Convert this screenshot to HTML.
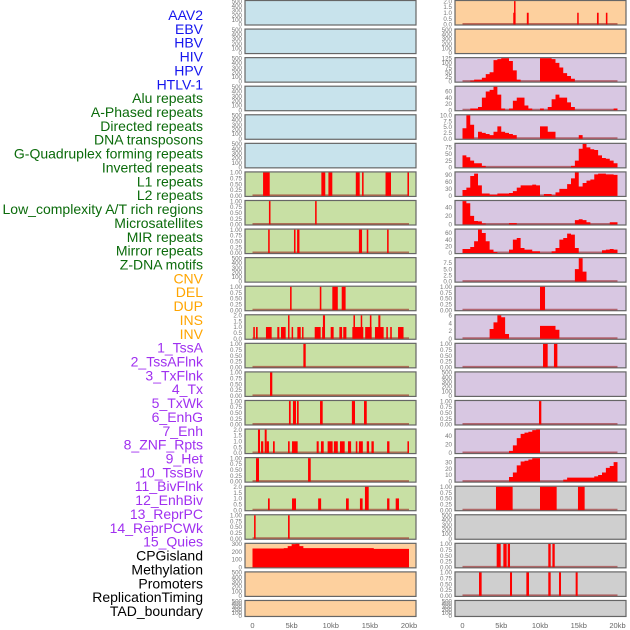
<!DOCTYPE html>
<html><head><meta charset="utf-8"><style>
html,body{margin:0;padding:0;background:#fff;}
svg{display:block;font-family:"Liberation Sans",sans-serif;}
</style></head><body>
<svg id="chart" width="630" height="630" viewBox="0 0 630 630"></svg>
<script>
// ---- data ----
const trackLabels=["AAV2","EBV","HBV","HIV","HPV","HTLV-1","Alu repeats","A-Phased repeats","Directed repeats","DNA transposons","G-Quadruplex forming repeats","Inverted repeats","L1 repeats","L2 repeats","Low_complexity A/T rich regions","Microsatellites","MIR repeats","Mirror repeats","Z-DNA motifs","CNV","DEL","DUP","INS","INV","1_TssA","2_TssAFlnk","3_TxFlnk","4_Tx","5_TxWk","6_EnhG","7_Enh","8_ZNF_Rpts","9_Het","10_TssBiv","11_BivFlnk","12_EnhBiv","13_ReprPC","14_ReprPCWk","15_Quies","CPGisland","Methylation","Promoters","ReplicationTiming","TAD_boundary"];
const labelGroups=[6,13,5,15,5];
const groupColors=["#1515ee","#0b6b0b","#ffa500","#a030f0","#000000"];
const xTickLabels=["0","5kb","10kb","15kb","20kb"];
const xTickValues=[0,5,10,15,20];
const ticks01=["0.00","0.25","0.50","0.75","1.00"];
const ticks02=["0.0","0.5","1.0","1.5","2.0"];
const ticks500=["0","100","200","300","400","500"];
// spike tracks: [startKb,endKb,value]
const l1Spikes=[[1.35,2.2,1],[8.8,9.3,1],[9.7,10.2,1],[13.2,13.7,1],[14.0,14.2,1],[17.0,17.7,1],[19.8,20,1]];
const l2Spikes=[[2.1,2.3,1],[8.0,8.2,1]];
const lowSpikes=[[2.0,2.2,1],[5.3,5.5,1],[5.7,6.0,1],[13.6,14.0,1],[14.6,14.8,1],[17.2,17.4,1]];
const mirSpikes=[[4.8,5.0,1],[8.6,8.8,1],[10.2,10.9,1],[11.4,11.9,1]];
const insSpikesL=[[0.1,0.3,1],[0.45,0.66,1],[1.72,2.45,1],[3.17,3.43,1],[3.64,4.24,1],[4.54,4.7,2],[5.0,5.17,1],[5.73,6.16,1],[6.33,6.5,1],[7.95,8.71,1],[8.9,9.0,1],[9.0,9.27,2],[9.99,10.37,1],[11.1,11.45,1],[11.6,12.0,1],[12.76,14.16,1],[12.9,13.1,2],[13.83,14.0,2],[14.4,15.23,1],[15.0,15.2,2],[15.65,16.76,1],[16.08,16.34,2],[17.1,17.3,1],[17.6,17.8,1],[18.6,19.3,1]];
const invSpikes=[[6.5,6.8,1]];
const tssaSpikes=[[2.24,2.53,1]];
const tssaflnkSpikes=[[4.66,4.88,1],[5.17,5.56,1],[5.69,5.9,1],[8.63,8.97,1],[12.7,13.1,1],[14.25,14.6,1]];
const txflnkSpikes=[[0.7,0.96,2],[1.09,1.38,1],[1.56,1.81,2],[1.81,2.1,1],[2.62,2.84,1],[4.54,4.75,1],[5.05,5.77,1],[8.2,8.46,1],[8.75,9.1,1],[9.6,10.24,1],[10.4,10.9,1],[11.18,11.78,1],[12.2,12.6,1],[13.2,13.4,1],[13.6,14.1,1],[14.6,14.9,1],[15.2,15.5,1],[17.2,17.5,1],[19.8,20.0,1]];
const txSpikes=[[0.45,0.83,1],[7.1,7.44,1]];
const txwkSpikes=[[1.98,2.2,1],[5.05,5.56,1],[8.39,8.77,1],[11.95,12.3,1],[13.73,14.07,1],[14.37,14.85,2],[17.2,17.5,1],[18.3,18.72,1]];
const enhgSpikes=[[0.2,0.4,1],[4.54,4.75,1]];
const aav2Spikes=[[6.55,6.85,1],[6.65,6.8,2],[8.3,8.54,1],[14.8,14.99,1],[17.35,17.57,1],[18.5,18.7,1]];
const cnvSpikes=[[10.0,10.65,1]];
const delSpikes=[[10.39,10.99,1],[11.8,12.24,1]];
const insEnhSpikes=[[9.87,10.17,1]];
const reprpcSpikes=[[4.32,6.47,1],[10.0,12.15,1],[14.9,15.76,1]];
const cpgSpikes=[[4.41,4.93,1],[5.27,5.7,1],[5.83,6.13,1],[11.07,11.38,1],[11.6,11.9,1]];
const methSpikes=[[2.13,2.47,1],[6.13,6.39,1],[8.24,8.58,1],[11.07,11.38,1],[12.45,12.71,1],[14.6,14.86,1]];
// area tracks: values per 0.5kb bin (40 bins)
const hivBins=[0,0,5,10,10,20,40,50,115,120,125,125,110,60,10,0,0,0,0,0,125,125,125,120,100,75,45,30,15,0,0,0,0,0,0,0,0,0,0,0];
const aluBins=[0,0,5,5,10,40,60,65,75,50,5,0,5,30,40,40,15,5,0,0,5,0,10,35,50,40,40,25,10,0,0,0,0,0,0,0,0,0,0,5];
const aphasedBins=[4.5,10,6,0,3,2.5,2,1.5,3,5.3,3,2.5,2,1.5,0,0,0,0,0,0,5.3,5.3,3,3,0,0,0,0,0,0,1.5,0,0,0,0,0,0,0,0,0];
const gquadBins=[45,38,25,15,15,5,0,0,0,0,0,0,0,0,0,0,0,0,0,0,0,0,0,0,0,0,0,0,5,25,70,88,75,68,65,45,35,32,25,15];
const l1Bins=[25,35,85,95,45,10,10,5,5,10,10,10,12,20,35,45,45,45,48,45,0,8,8,2,15,30,30,50,75,100,40,55,65,70,92,95,95,92,92,90];
const l2Bins=[55,50,20,8,7,2,0,0,0,0,0,0,3,3,0,0,0,0,0,0,0,0,0,0,0,0,0,0,0,10,12,10,5,0,0,0,0,0,5,5];
const mirBins=[12,12,18,35,70,60,35,10,3,0,0,0,10,40,45,15,10,10,5,5,0,0,0,5,15,40,45,58,55,15,0,0,0,0,0,0,8,10,12,10];
const zdnaBins=[0,0,0,0,0,0,0,0,0,0,0,0,0,0,0,0,0,0,0,0,0,0,0,0,0,0,0,0,0,5,9.4,4,0,0,0,0,0,0,0,0];
const insBinsR=[0,0,0,0,0,0,0,2.5,4.2,6,5.5,1.2,0,0,0,0,0,0,0,0,3.3,3.3,3.3,3.3,2.3,0,0,0,0,0,0,0,0,0,0,0,0,0,0,0];
const enhBins=[0,0,0,0,0,0,0,0,0,0,0,0,5,18,35,45,48,50,54,55,0,0,0,0,0,0,0,0,0,0,0,0,0,0,0,0,0,0,0,0];
const znfBins=[0,0,0,0,0,0,0,0,0,0,0,0,7,14,25,31,32,34,36,36,0,0,0,0,0,0,3,6,6,6,6,6,6,6,8,10,14,21,24,30];
const cpgBins=[240,240,240,240,240,240,240,240,245,270,295,298,270,245,245,245,245,245,245,245,245,245,245,245,245,245,245,245,245,245,245,235,235,235,235,235,235,235,235,235];
const hivTicks=["0","25","50","75","100","125"],aluTicks=["0","20","40","60"],aphTicks=["0.0","2.5","5.0","7.5","10.0"],gqTicks=["0","25","50","75"],l1Ticks=["0","30","60","90"],l2Ticks=["0","20","40"],mirTicks=["0","20","40","60"],zTicks=["0.0","2.5","5.0","7.5"],insTicks=["0","2","4","6"],enhTicks=["0","20","40"],znfTicks=["0","10","20","30"],cpgTicks=["0","100","200","300"];

// ---- layout ----
const BG={blue:"#c8e3ec",green:"#c8e0a4",orange:"#fdd09e",purple:"#d8c7e2",gray:"#cfcfcf"};
const panels=[];
function P(col,row,bg,kind,data,ticks,name){panels.push({col,row,bg,kind,data,ticks,name});}
for(let r=0;r<6;r++)P(0,r,"blue","empty",null,ticks500,"left-empty-"+r);
P(0,6,"green","spike",l1Spikes,ticks01,"l1-spikes");
P(0,7,"green","spike",l2Spikes,ticks01,"l2-spikes");
P(0,8,"green","spike",lowSpikes,ticks01,"lowcomplexity-spikes");
P(0,9,"green","empty",null,ticks500,"micro-empty");
P(0,10,"green","spike",mirSpikes,ticks01,"mir-spikes");
P(0,11,"green","spike",insSpikesL,ticks02,"ins-spikes");
P(0,12,"green","spike",invSpikes,ticks01,"inv-spikes");
P(0,13,"green","spike",tssaSpikes,ticks01,"tssa-spikes");
P(0,14,"green","spike",tssaflnkSpikes,ticks01,"tssaflnk-spikes");
P(0,15,"green","spike",txflnkSpikes,ticks02,"txflnk-spikes");
P(0,16,"green","spike",txSpikes,ticks01,"tx-spikes");
P(0,17,"green","spike",txwkSpikes,ticks02,"txwk-spikes");
P(0,18,"green","spike",enhgSpikes,ticks01,"enhg-spikes");
P(0,19,"orange","area",cpgBins,cpgTicks,"cpg-area");
P(0,20,"orange","empty",null,ticks500,"orange-empty-1");
P(0,21,"orange","empty",null,ticks500,"orange-empty-2");
P(1,0,"orange","spike",aav2Spikes,ticks02,"aav2-spikes");
P(1,1,"orange","empty",null,ticks500,"ebv-empty");
P(1,2,"purple","area",hivBins,hivTicks,"hiv-area");
P(1,3,"purple","area",aluBins,aluTicks,"alu-area");
P(1,4,"purple","area",aphasedBins,aphTicks,"aphased-area");
P(1,5,"purple","area",gquadBins,gqTicks,"gquad-area");
P(1,6,"purple","area",l1Bins,l1Ticks,"l1-area");
P(1,7,"purple","area",l2Bins,l2Ticks,"l2-area");
P(1,8,"purple","area",mirBins,mirTicks,"mir-area");
P(1,9,"purple","area",zdnaBins,zTicks,"zdna-area");
P(1,10,"purple","spike",cnvSpikes,ticks01,"cnv-spikes");
P(1,11,"purple","area",insBinsR,insTicks,"ins-area");
P(1,12,"purple","spike",delSpikes,ticks01,"del-spikes");
P(1,13,"purple","empty",null,ticks500,"purple-empty");
P(1,14,"purple","spike",insEnhSpikes,ticks01,"enh-spikes");
P(1,15,"purple","area",enhBins,enhTicks,"enh-area");
P(1,16,"purple","area",znfBins,znfTicks,"znf-area");
P(1,17,"gray","spike",reprpcSpikes,ticks01,"reprpc-spikes");
P(1,18,"gray","empty",null,ticks500,"gray-empty-1");
P(1,19,"gray","spike",cpgSpikes,ticks01,"cpg-spikes");
P(1,20,"gray","spike",methSpikes,ticks01,"meth-spikes");
P(1,21,"gray","empty",null,ticks500,"gray-empty-2");

const svg=document.getElementById("chart");
const NS="http://www.w3.org/2000/svg";
function el(tag,attrs,parent){const e=document.createElementNS(NS,tag);for(const k in attrs)e.setAttribute(k,attrs[k]);(parent||svg).appendChild(e);return e;}
const colX=[245,455],panelW=171,x0=[252.5,462.5],xs=[7.825,7.75];
function rowTop(r){return 0.5+28.57*r;}
function rowH(r){return r===21?16:24.5;}
function xScale(col,kb){return x0[col]+kb*xs[col];}

// labels
let li=0;
labelGroups.forEach((n,g)=>{for(let k=0;k<n;k++){const t=el("text",{x:203,y:15+13.86*li+5,"text-anchor":"end","font-size":"14",fill:groupColors[g]});


t.textContent=trackLabels[li];li++;}});

panels.forEach(p=>{
  const g=el("g",{});
  
  
  const top=rowTop(p.row),h=rowH(p.row),left=colX[p.col];
  el("rect",{x:left,y:top,width:panelW,height:h,fill:BG[p.bg],stroke:"#666","stroke-width":1.2},g);
  let ymax;
  if(p.kind==="empty")ymax=500;
  else if(p.kind==="spike")ymax=Math.max(...p.data.map(d=>d[2]));
  else ymax=Math.max(...p.data);
  const yS=v=>top+h-0.6-(v/ymax)*(h-1.2);
  const tmax=parseFloat(p.ticks[p.ticks.length-1]);
  const tickTop=p.kind==="empty"?500:(p.kind==="spike"?ymax:tmax);
  p.ticks.forEach(t=>{const v=parseFloat(t);const yy=p.kind==="area"?yS(v):top+h-0.6-(v/tickTop)*(h-1.2);
    const tx=el("text",{x:left-3,y:yy+2.2,"text-anchor":"end","font-size":"6.2",fill:"#777"},g);
    
    
    tx.textContent=t;});
  if(p.kind==="empty")return;
  el("line",{x1:xScale(p.col,0),x2:xScale(p.col,20),y1:top+h-1.2,y2:top+h-1.2,stroke:"rgba(150,20,20,0.55)","stroke-width":1.6},g);
  if(p.kind==="spike"){
    p.data.forEach(d=>{const xa=xScale(p.col,d[0]),xb=Math.max(xScale(p.col,d[1]),xa+1.5);
      const r=el("rect",{x:xa,y:yS(d[2]),width:xb-xa,height:top+h-0.6-yS(d[2]),fill:"#ff0000"},g);
      
      });
  }else{
    let dstr="M"+xScale(p.col,0)+","+(top+h-0.6);
    p.data.forEach((v,i)=>{const xa=xScale(p.col,i*0.5),xb=xScale(p.col,(i+1)*0.5);dstr+=" L"+xa+","+yS(v)+" L"+xb+","+yS(v);});
    dstr+=" L"+xScale(p.col,p.data.length*0.5)+","+(top+h-0.6)+" Z";
    const a=el("path",{d:dstr,fill:"#ff0000"},g);
    
    
  }
});
// x axes
[0,1].forEach(c=>{xTickValues.forEach((v,i)=>{const t=el("text",{x:xScale(c,v),y:628,"text-anchor":"middle","font-size":"7.5",fill:"#666"});
  
  
  t.textContent=xTickLabels[i];});});
</script>
</body></html>
